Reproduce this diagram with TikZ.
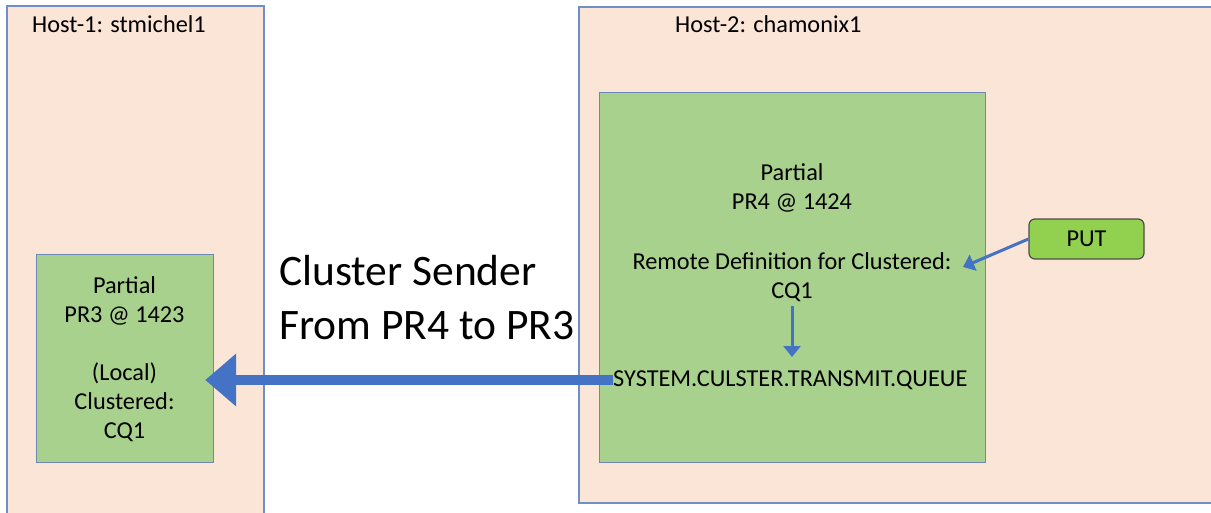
\documentclass[tikz,border=0pt]{standalone}
\usepackage{fontspec}
\setmainfont{Carlito}
\usetikzlibrary{arrows.meta}
\definecolor{peach}{HTML}{FBE5D6}
\definecolor{hostline}{HTML}{6F8FC9}
\definecolor{lgreen}{HTML}{A9D18E}
\definecolor{bgreen}{HTML}{92D050}
\definecolor{mblue}{HTML}{4472C4}
\definecolor{boxline}{HTML}{6C87B8}
\tikzset{
  host/.style={fill=peach, draw=hostline, line width=1.2pt},
  qm/.style={fill=lgreen, draw=boxline, line width=1.2pt, inner sep=0pt},
  lbl/.style={font=\fontsize{24.3}{29}\selectfont, inner sep=0pt, align=center},
  putbox/.style={fill=bgreen, draw=black!70, line width=1.2pt, rounded corners=6pt, minimum width=115pt, minimum height=40pt, font=\fontsize{24.3}{29}\selectfont},
  thin arrow/.style={draw=mblue, line width=3pt, -{Triangle[length=11pt,width=17pt]}},
  big arrow/.style={draw=mblue, line width=10pt, -{Triangle[length=31pt,width=51pt]}}
}
\begin{document}
\begin{tikzpicture}[x=1pt,y=-1pt]
\clip (0,0) rectangle (1211,512);
\fill[white] (0,0) rectangle (1211,512);
\draw[host] (7,6) rectangle (264,530);
\draw[host] (579,7) rectangle (1230,503);
\node[lbl, anchor=base west] (h1) at (32,32) {Host-1: stmichel1};
\node[lbl, anchor=base west] (h2) at (675,32) {Host-2: chamonix1};
\node[qm, minimum width=177pt, minimum height=208pt, anchor=north west] (pr3box) at (36,254) {};
\node[lbl] (pr3) at (124.5,359) {Partial\\PR3 @ 1423\\\strut\\(Local)\\Clustered:\\CQ1};
\node[qm, minimum width=386pt, minimum height=370pt, anchor=north west] (pr4box) at (599,92) {};
\node[lbl] (pr4) at (792,188) {Partial\\PR4 @ 1424};
\node[lbl] (rdef) at (792,277) {Remote Definition for Clustered:\\CQ1};
\node[lbl, anchor=west] (sysq) at (613,380) {SYSTEM.CULSTER.TRANSMIT.QUEUE};
\node[putbox] (put) at (1086.5,239) {PUT};
\node[font=\fontsize{43.5}{54}\selectfont, align=left, anchor=base west, inner sep=0pt] (cs1) at (279,285) {Cluster Sender};
\node[font=\fontsize{43.5}{54}\selectfont, align=left, anchor=base west, inner sep=0pt] (cs2) at (279,339) {From PR4 to PR3};
\coordinate (dtip) at (792,357);
\coordinate (dstart) at (792,306);
\draw[thin arrow] (put.west) -- (963,267);
\draw[thin arrow] (dstart) -- (dtip);
\draw[big arrow, shorten >=-9pt] (sysq.west) -- (sysq.west -| pr3box.east);
\end{tikzpicture}
\end{document}
